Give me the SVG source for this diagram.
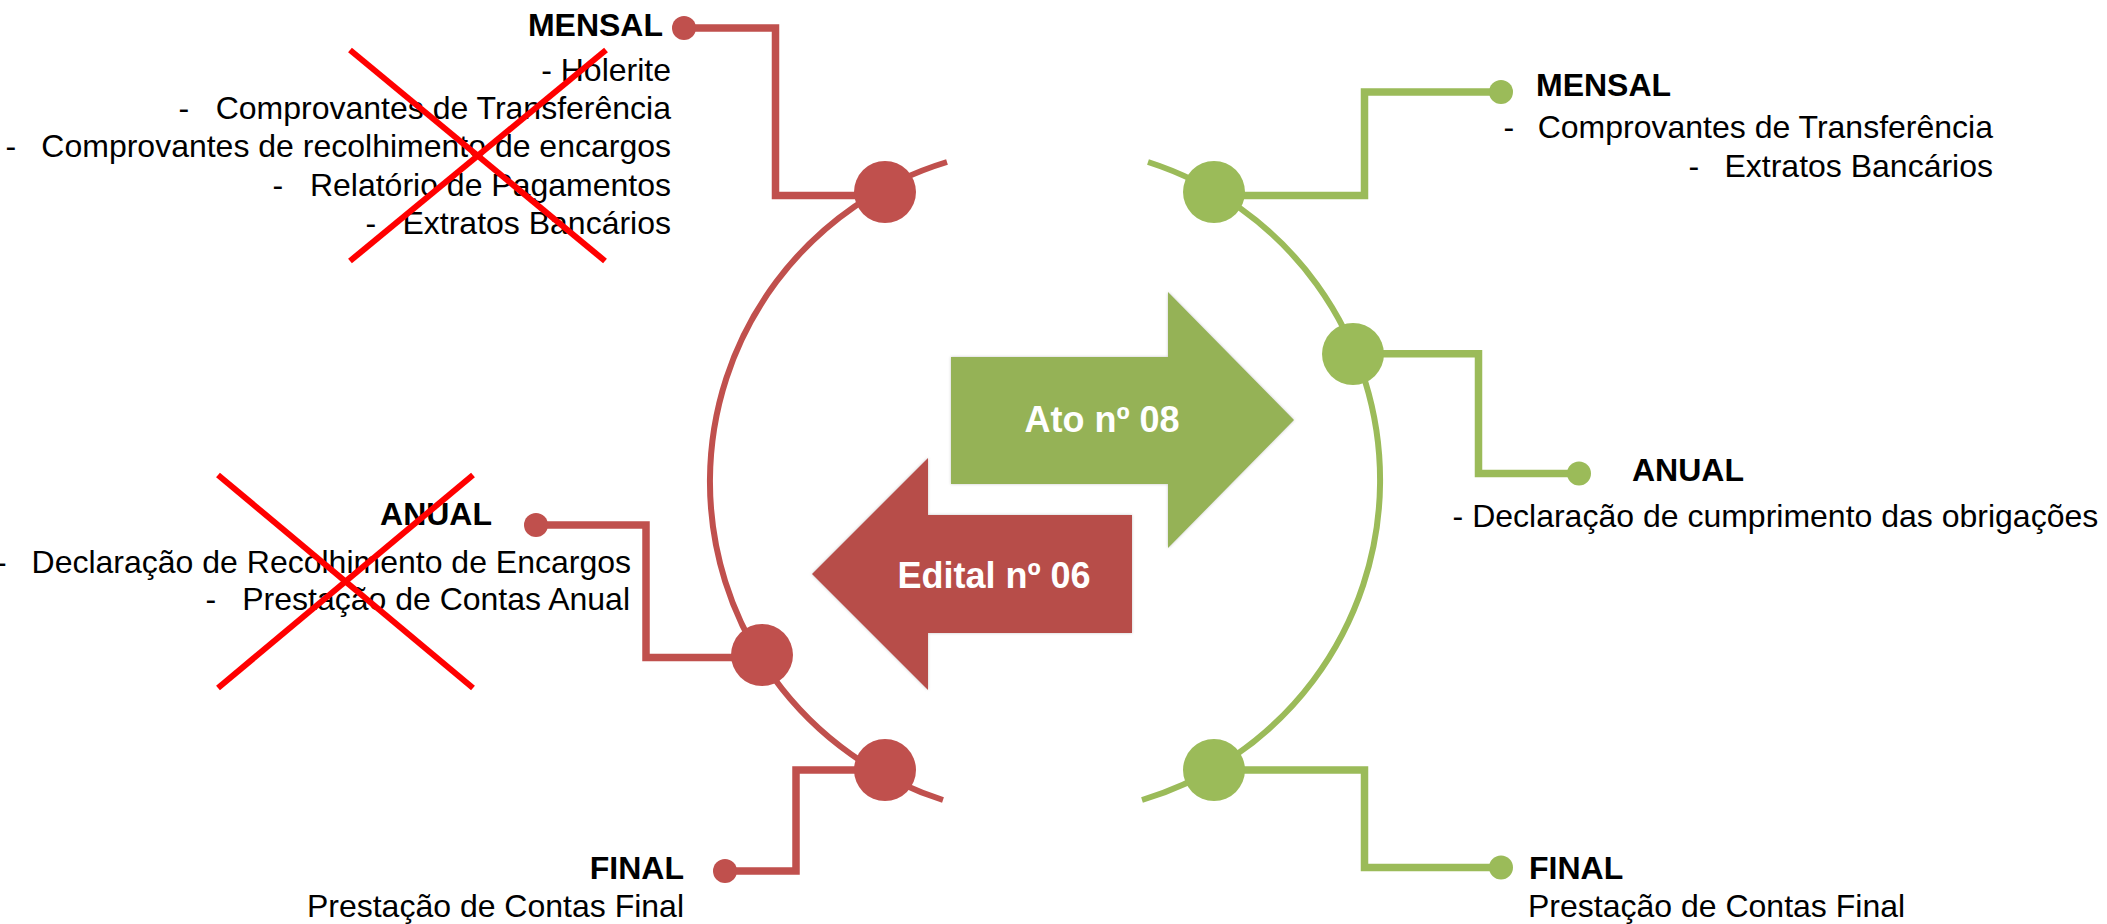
<svg xmlns="http://www.w3.org/2000/svg" width="2107" height="924" viewBox="0 0 2107 924">
<defs>
<style>
text{font-family:"Liberation Sans",Arial,sans-serif;fill:#000}
.t{font-size:32px}
.h{font-size:32px;font-weight:bold}
.lbl{font-size:36px;font-weight:bold;fill:#fff}
.e{text-anchor:end}
.m{text-anchor:middle}
.rl{fill:none;stroke:#C0504D;stroke-width:7.5}
.gl{fill:none;stroke:#9BBB59;stroke-width:7.5}
.ra{fill:none;stroke:#C0504D;stroke-width:6}
.ga{fill:none;stroke:#9BBB59;stroke-width:6}
.rc{fill:#C0504D}
.gc{fill:#9BBB59}
.x{stroke:#FF0000;stroke-width:6;fill:none}
</style>
<filter id="sh" x="-10%" y="-10%" width="120%" height="120%">
<feDropShadow dx="0" dy="0" stdDeviation="1.5" flood-color="#808080" flood-opacity="0.45"/>
</filter>
</defs>
<rect width="2107" height="924" fill="#fff"/>

<g id="connectors">
<path class="ra" d="M947 162 A334 334 0 0 0 943 800"/>
<path class="ga" d="M1148 162 A334 334 0 0 1 1142 800"/>
<polyline class="rl" points="684,28 775.5,28 775.5,195.5 870,195.5"/>
<polyline class="rl" points="536,525 646,525 646,657.5 750,657.5"/>
<polyline class="rl" points="870,770 796,770 796,871 725,871"/>
<polyline class="gl" points="1230,195.5 1364.5,195.5 1364.5,92 1501,92"/>
<polyline class="gl" points="1365,353.7 1478.5,353.7 1478.5,473.5 1579,473.5"/>
<polyline class="gl" points="1230,770 1364.5,770 1364.5,867.5 1501,867.5"/>
</g>

<g id="arrow-ato">
<polygon points="951,357 1168,357 1168,292 1294,420 1168,548 1168,484 951,484" fill="#95B257" filter="url(#sh)"/>
<text class="lbl m" x="1102" y="432">Ato nº 08</text>
</g>
<g id="arrow-edital">
<polygon points="812,574 928,458 928,515 1132,515 1132,633 928,633 928,690" fill="#B74D4A" filter="url(#sh)"/>
<text class="lbl m" x="994" y="588">Edital nº 06</text>
</g>

<g id="red-mensal">
<circle class="rc" cx="885" cy="192" r="31"/>
<circle class="rc" cx="684" cy="28" r="12"/>
<text class="h e" x="663" y="36">MENSAL</text>
<text class="t e" x="671" y="81">- Holerite</text>
<text class="t" x="178.6" y="119">-</text>
<text class="t e" x="671" y="119">Comprovantes de Transferência</text>
<text class="t" x="5.6" y="157.3">-</text>
<text class="t e" x="671" y="157.3">Comprovantes de recolhimento de encargos</text>
<text class="t" x="272.6" y="195.6">-</text>
<text class="t e" x="671" y="195.6">Relatório de Pagamentos</text>
<text class="t" x="365.6" y="234">-</text>
<text class="t e" x="671" y="234">Extratos Bancários</text>
</g>
<g id="red-mensal-cross">
<line class="x" x1="350" y1="50" x2="605" y2="261"/>
<line class="x" x1="606" y1="50" x2="350" y2="261"/>
</g>

<g id="red-anual">
<circle class="rc" cx="762" cy="655" r="31"/>
<circle class="rc" cx="536" cy="525" r="12"/>
<text class="h e" x="492" y="525">ANUAL</text>
<text class="t" x="-4" y="572.5">-</text>
<text class="t e" x="631" y="572.5">Declaração de Recolhimento de Encargos</text>
<text class="t" x="205.6" y="610">-</text>
<text class="t e" x="630" y="610">Prestação de Contas Anual</text>
</g>
<g id="red-anual-cross">
<line class="x" x1="218" y1="475" x2="473" y2="688"/>
<line class="x" x1="473" y1="475" x2="218" y2="688"/>
</g>

<g id="red-final">
<circle class="rc" cx="885" cy="770" r="31"/>
<circle class="rc" cx="725" cy="871" r="12"/>
<text class="h e" x="684" y="879">FINAL</text>
<text class="t e" x="684" y="917">Prestação de Contas Final</text>
</g>

<g id="green-mensal">
<circle class="gc" cx="1214" cy="192" r="31"/>
<circle class="gc" cx="1501" cy="92" r="12"/>
<text class="h" x="1536" y="96">MENSAL</text>
<text class="t" x="1503.6" y="138">-</text>
<text class="t e" x="1993" y="138">Comprovantes de Transferência</text>
<text class="t" x="1688.6" y="177">-</text>
<text class="t e" x="1993" y="177">Extratos Bancários</text>
</g>

<g id="green-anual">
<circle class="gc" cx="1353" cy="354" r="31"/>
<circle class="gc" cx="1579" cy="473.5" r="12"/>
<text class="h" x="1632" y="481">ANUAL</text>
<text class="t" x="1452.6" y="527">- Declaração de cumprimento das obrigações</text>
</g>

<g id="green-final">
<circle class="gc" cx="1214" cy="770" r="31"/>
<circle class="gc" cx="1501" cy="867.5" r="12"/>
<text class="h" x="1529" y="879">FINAL</text>
<text class="t" x="1528" y="917">Prestação de Contas Final</text>
</g>
</svg>
